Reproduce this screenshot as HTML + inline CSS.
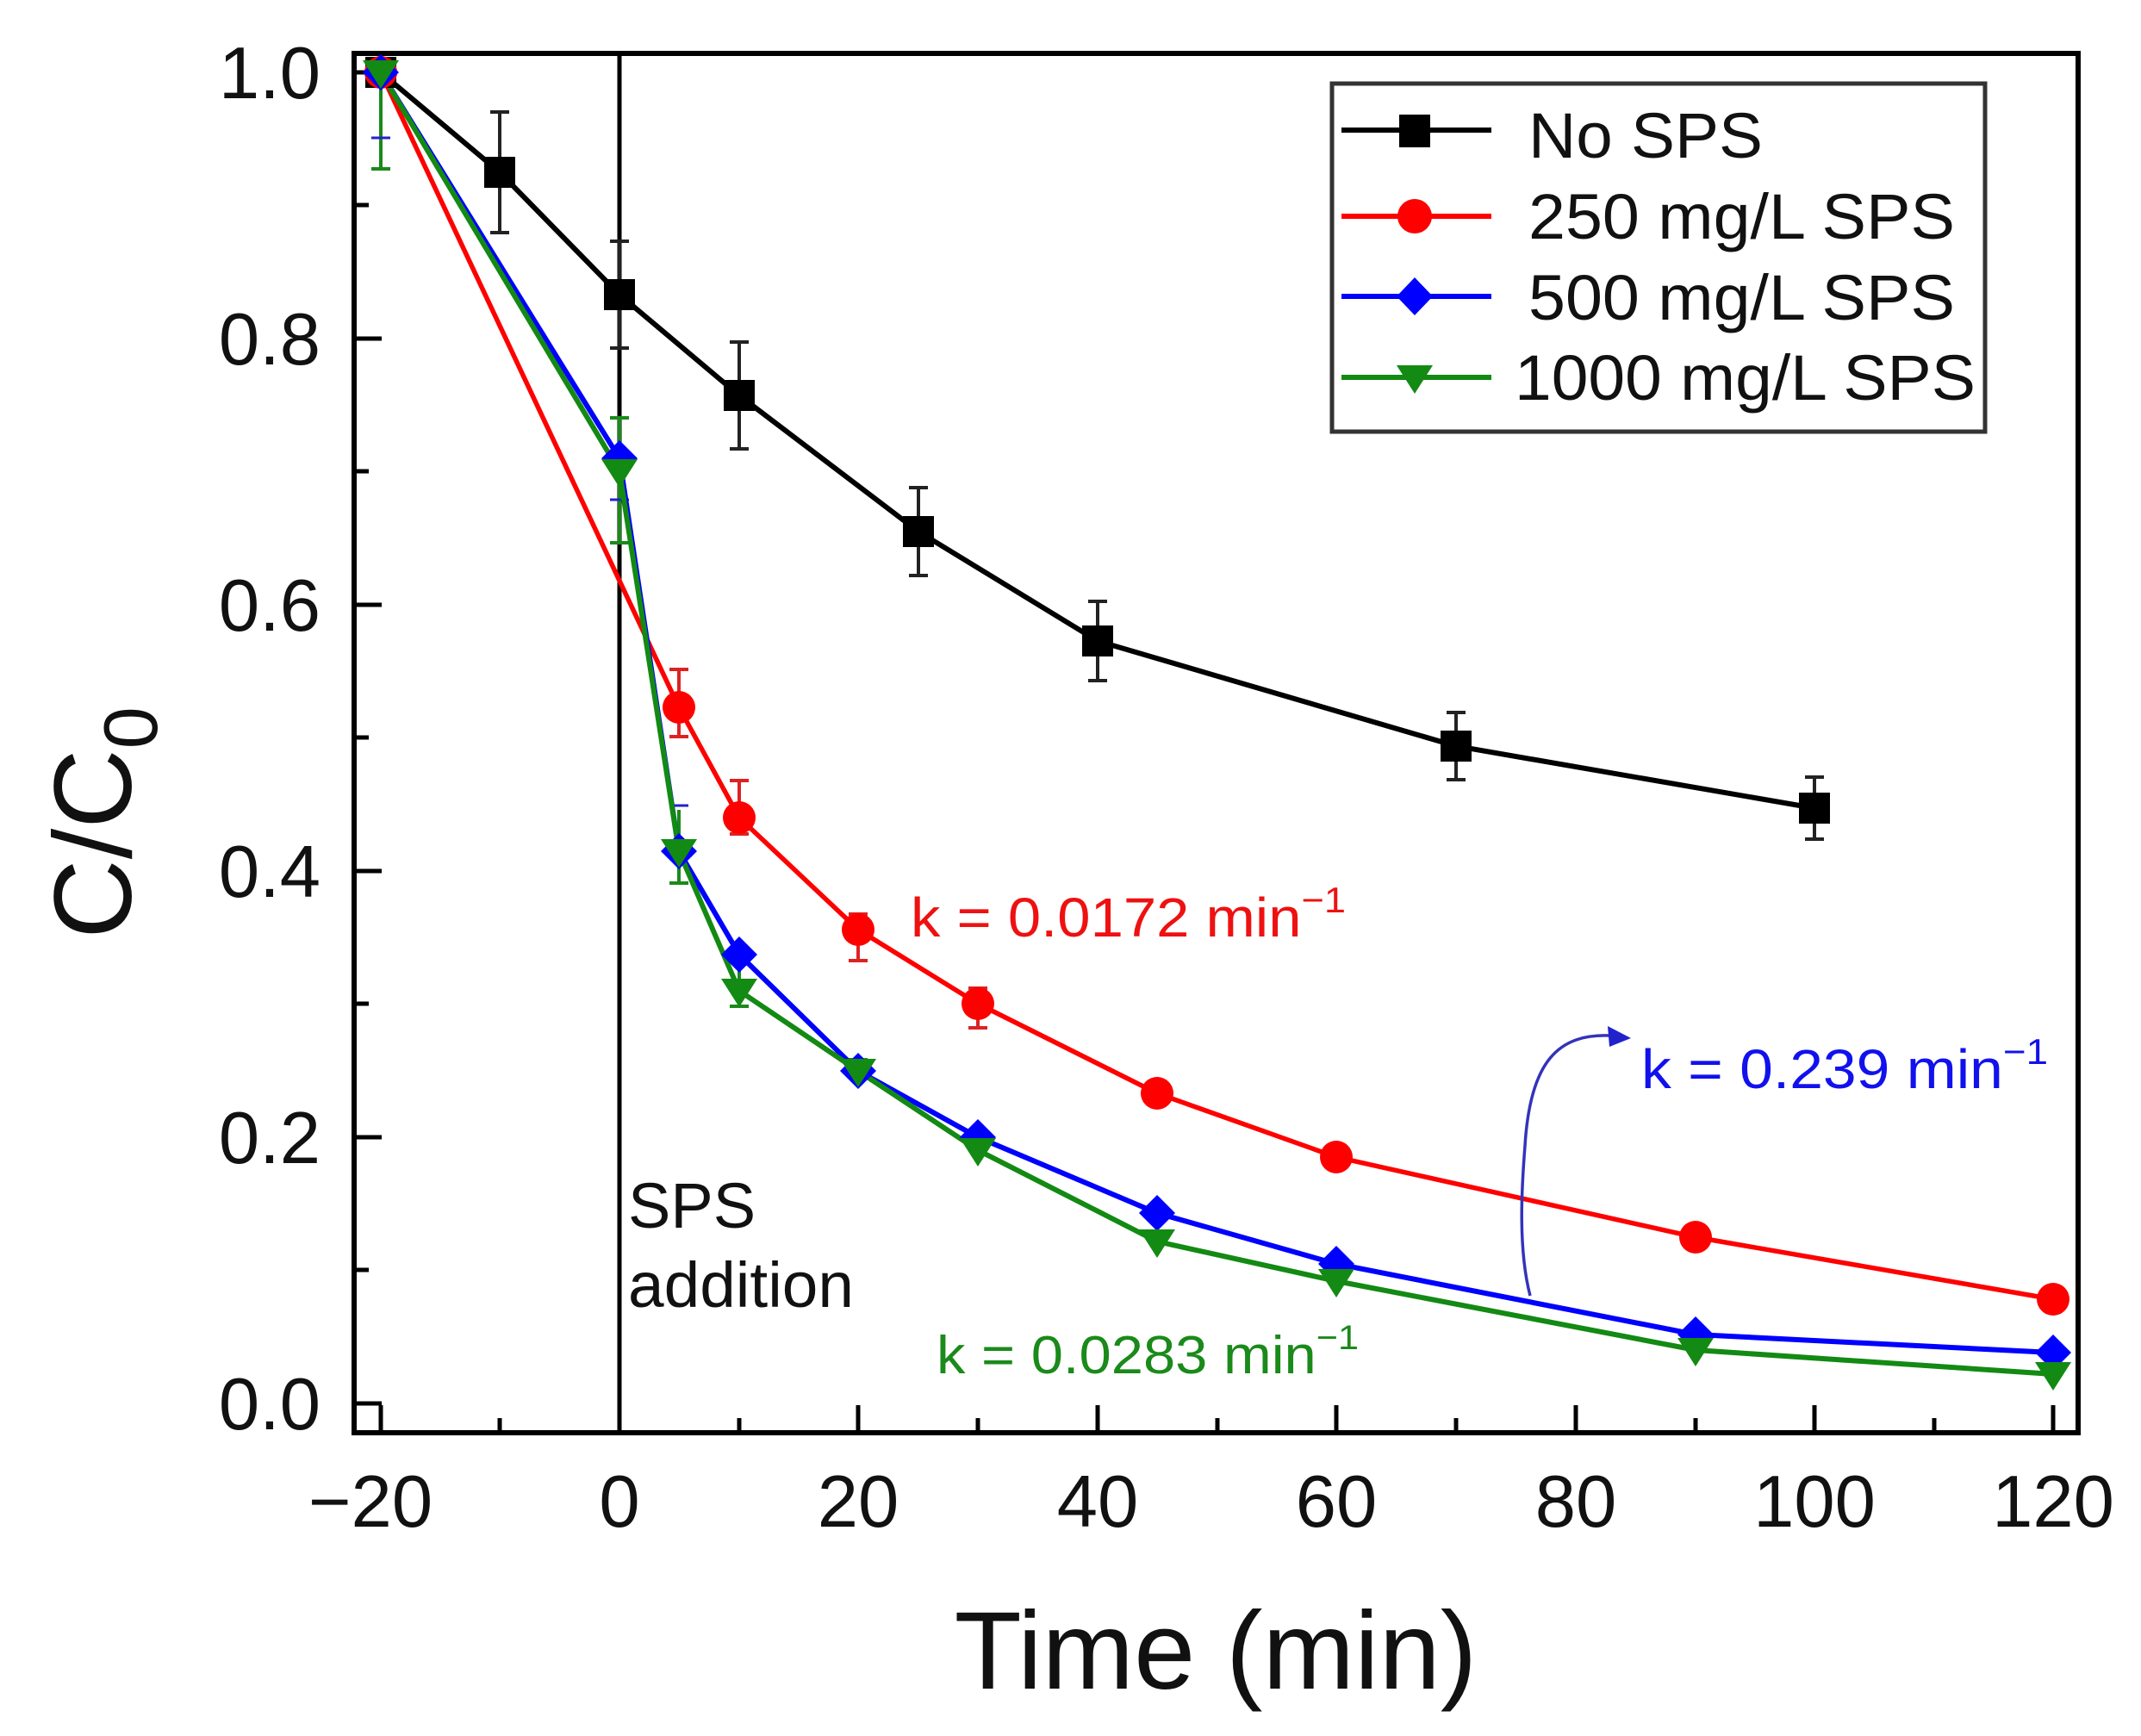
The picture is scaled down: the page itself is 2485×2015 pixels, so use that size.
<!DOCTYPE html>
<html><head><meta charset="utf-8"><style>html,body{margin:0;padding:0;background:#fff}svg{display:block}</style></head>
<body>
<svg width="2485" height="2015" viewBox="0 0 2485 2015" xmlns="http://www.w3.org/2000/svg" font-family="Liberation Sans, Arial, sans-serif">
<rect width="2485" height="2015" fill="#fff"/>
<rect x="411" y="62" width="2001" height="1601" fill="none" stroke="#000" stroke-width="6"/>
<line x1="719" y1="62" x2="719" y2="1663" stroke="#000" stroke-width="5"/>
<g stroke="#000" stroke-width="5">
<line x1="411" y1="84" x2="443" y2="84"/><line x1="411" y1="238" x2="428" y2="238"/>
<line x1="411" y1="393" x2="443" y2="393"/><line x1="411" y1="547" x2="428" y2="547"/>
<line x1="411" y1="702" x2="443" y2="702"/><line x1="411" y1="856" x2="428" y2="856"/>
<line x1="411" y1="1011" x2="443" y2="1011"/><line x1="411" y1="1165" x2="428" y2="1165"/>
<line x1="411" y1="1320" x2="443" y2="1320"/><line x1="411" y1="1474" x2="428" y2="1474"/>
<line x1="411" y1="1629" x2="443" y2="1629"/>
<line x1="442" y1="1663" x2="442" y2="1631"/><line x1="580" y1="1663" x2="580" y2="1646"/>
<line x1="719" y1="1663" x2="719" y2="1631"/><line x1="858" y1="1663" x2="858" y2="1646"/>
<line x1="996" y1="1663" x2="996" y2="1631"/><line x1="1135" y1="1663" x2="1135" y2="1646"/>
<line x1="1274" y1="1663" x2="1274" y2="1631"/><line x1="1413" y1="1663" x2="1413" y2="1646"/>
<line x1="1551" y1="1663" x2="1551" y2="1631"/><line x1="1690" y1="1663" x2="1690" y2="1646"/>
<line x1="1829" y1="1663" x2="1829" y2="1631"/><line x1="1968" y1="1663" x2="1968" y2="1646"/>
<line x1="2106" y1="1663" x2="2106" y2="1631"/><line x1="2245" y1="1663" x2="2245" y2="1646"/>
<line x1="2383" y1="1663" x2="2383" y2="1631"/>
</g>
<g font-size="85" fill="#111" text-anchor="end">
<text x="372" y="114">1.0</text><text x="372" y="423">0.8</text><text x="372" y="732">0.6</text>
<text x="372" y="1041">0.4</text><text x="372" y="1350">0.2</text><text x="372" y="1659">0.0</text>
</g>
<g font-size="85" fill="#111" text-anchor="middle">
<text x="430" y="1772">−20</text><text x="719" y="1772">0</text><text x="996" y="1772">20</text>
<text x="1274" y="1772">40</text><text x="1551" y="1772">60</text><text x="1829" y="1772">80</text>
<text x="2106" y="1772">100</text><text x="2383" y="1772">120</text>
</g>
<text x="1411" y="1960" font-size="128" text-anchor="middle" fill="#111">Time (min)</text>
<g transform="translate(152,955) rotate(-90)"><text x="0" y="0" font-size="128" text-anchor="middle" fill="#111">C/C<tspan font-size="88" dy="30">0</tspan></text></g>

<g stroke="#222" stroke-width="4" fill="none">
<path d="M580 130V270M569 130h22M569 270h22"/>
<path d="M719 280V404M708 280h22M708 404h22"/>
<path d="M858 397V521M847 397h22M847 521h22"/>
<path d="M1066 566V668M1055 566h22M1055 668h22"/>
<path d="M1274 698V790M1263 698h22M1263 790h22"/>
<path d="M1690 827V905M1679 827h22M1679 905h22"/>
<path d="M2106 902V974M2095 902h22M2095 974h22"/>
</g>
<g stroke="#d22" stroke-width="4" fill="none">
<path d="M788 777V855M777 777h22M777 855h22"/>
<path d="M858 906V968M847 906h22M847 968h22"/>
<path d="M996 1061V1115M985 1061h22M985 1115h22"/>
<path d="M1135 1147V1193M1124 1147h22M1124 1193h22"/>
</g>
<g stroke="#1a8a1a" stroke-width="4" fill="none">
<path d="M442 70V196M431 196h22"/>
<path d="M719 485V630M708 485h22M708 630h22"/>
<path d="M788 940V1025M777 1025h22"/>
<path d="M858 1117V1168M847 1168h22"/>
<path d="M996 1230V1262M985 1230h22"/>
</g>
<g stroke="#22c" stroke-width="3" fill="none">
<path d="M431 160h22M708 580h22M777 935h22M847 1110h22"/>
</g>

<polyline fill="none" stroke="#000" stroke-width="6" points="442,84 580,200 719,342 858,459 1066,617 1274,744 1690,866 2106,938"/>
<polyline fill="none" stroke="#f00" stroke-width="5.5" points="442,84 788,821 858,949 996,1079 1135,1165 1343,1269 1551,1343 1968,1436 2383,1508"/>
<polyline fill="none" stroke="#00f" stroke-width="6" points="442,84 719,532 788,988 858,1108 996,1243 1135,1320 1343,1408 1551,1467 1968,1549 2383,1570"/>
<polyline fill="none" stroke="#138a13" stroke-width="6" points="442,84 719,547 788,988 858,1150 996,1243 1135,1335 1343,1441 1551,1487 1968,1567 2383,1595"/>

<g fill="#000">
<rect x="424" y="66" width="36" height="36"/><rect x="562" y="182" width="36" height="36"/>
<rect x="701" y="324" width="36" height="36"/><rect x="840" y="441" width="36" height="36"/>
<rect x="1048" y="599" width="36" height="36"/><rect x="1256" y="726" width="36" height="36"/>
<rect x="1672" y="848" width="36" height="36"/><rect x="2088" y="920" width="36" height="36"/>
</g>
<g fill="#f00">
<circle cx="442" cy="84" r="19"/><circle cx="788" cy="821" r="19"/><circle cx="858" cy="949" r="19"/>
<circle cx="996" cy="1079" r="19"/><circle cx="1135" cy="1165" r="19"/><circle cx="1343" cy="1269" r="19"/>
<circle cx="1551" cy="1343" r="19"/><circle cx="1968" cy="1436" r="19"/><circle cx="2383" cy="1508" r="19"/>
</g>
<g fill="#00f">
<path d="M442 63l21 21-21 21-21-21z"/><path d="M719 511l21 21-21 21-21-21z"/><path d="M788 967l21 21-21 21-21-21z"/>
<path d="M858 1087l21 21-21 21-21-21z"/><path d="M996 1222l21 21-21 21-21-21z"/><path d="M1135 1299l21 21-21 21-21-21z"/>
<path d="M1343 1387l21 21-21 21-21-21z"/><path d="M1551 1446l21 21-21 21-21-21z"/><path d="M1968 1528l21 21-21 21-21-21z"/>
<path d="M2383 1549l21 21-21 21-21-21z"/>
</g>
<g fill="#138a13">
<path d="M421 70h42l-21 33z"/><path d="M698 533h42l-21 33z"/><path d="M767 974h42l-21 33z"/>
<path d="M837 1136h42l-21 33z"/><path d="M975 1229h42l-21 33z"/><path d="M1114 1321h42l-21 33z"/>
<path d="M1322 1427h42l-21 33z"/><path d="M1530 1473h42l-21 33z"/><path d="M1947 1553h42l-21 33z"/>
<path d="M2362 1581h42l-21 33z"/>
</g>

<text x="729" y="1425" font-size="74" fill="#111">SPS</text>
<text x="729" y="1517" font-size="74" fill="#111" textLength="262" lengthAdjust="spacingAndGlyphs">addition</text>
<text x="1057" y="1087" font-size="64" fill="#e11" textLength="505" lengthAdjust="spacingAndGlyphs">k = 0.0172 min<tspan font-size="42" dy="-28">−1</tspan></text>
<text x="1905" y="1263" font-size="64" fill="#11e" textLength="472" lengthAdjust="spacingAndGlyphs">k = 0.239 min<tspan font-size="42" dy="-28">−1</tspan></text>
<text x="1087" y="1594" font-size="62" fill="#1a8a1a" textLength="490" lengthAdjust="spacingAndGlyphs">k = 0.0283 min<tspan font-size="40" dy="-28">−1</tspan></text>
<path d="M1776 1504C1762 1450 1766 1380 1770 1330C1776 1230 1810 1200 1868 1202" fill="none" stroke="#33b" stroke-width="3.5"/>
<path d="M1893 1205l-27-14 2 24z" fill="#22c"/>

<rect x="1546" y="97" width="758" height="404" fill="#fff" stroke="#333" stroke-width="5"/>
<g stroke-width="6">
<line x1="1557" y1="151" x2="1731" y2="151" stroke="#000"/>
<line x1="1557" y1="251" x2="1731" y2="251" stroke="#f00"/>
<line x1="1557" y1="344" x2="1731" y2="344" stroke="#00f"/>
<line x1="1557" y1="438" x2="1731" y2="438" stroke="#138a13"/>
</g>
<rect x="1624" y="133" width="36" height="38" fill="#000"/>
<circle cx="1642" cy="251" r="20" fill="#f00"/>
<path d="M1642 322l21 22-21 22-21-22z" fill="#00f"/>
<path d="M1621 424h42l-21 33z" fill="#138a13"/>
<g font-size="74" fill="#111">
<text x="1774" y="183" textLength="272" lengthAdjust="spacingAndGlyphs">No SPS</text>
<text x="1774" y="277" textLength="495" lengthAdjust="spacingAndGlyphs">250 mg/L SPS</text>
<text x="1774" y="371" textLength="495" lengthAdjust="spacingAndGlyphs">500 mg/L SPS</text>
<text x="1758" y="464" textLength="535" lengthAdjust="spacingAndGlyphs">1000 mg/L SPS</text>
</g>
</svg>
</body></html>
